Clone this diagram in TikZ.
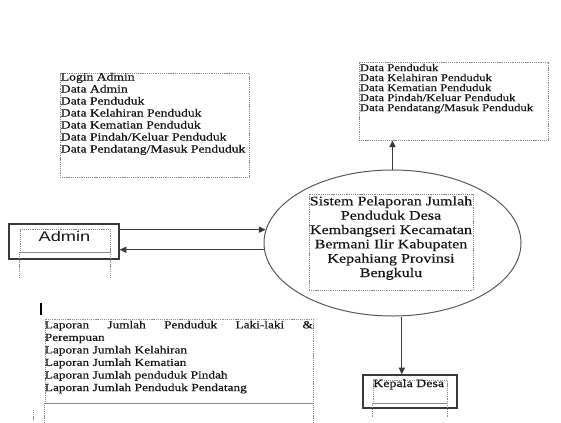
\documentclass[tikz,border=0pt]{standalone}
\usepackage{fontspec}
\setmainfont{Liberation Serif}[FakeStretch=1.23, UprightFeatures={FakeBold=0.4}]
\newfontfamily\adminfont{Liberation Sans}[FakeStretch=1.3]
\usepackage{tikz}
\usetikzlibrary{arrows.meta, positioning, calc, shapes.geometric}
\definecolor{edge}{HTML}{3A3A3A}
\definecolor{dots}{HTML}{8A8A8A}
\definecolor{ink}{HTML}{141414}
\newcommand{\tightlines}{\lineskiplimit-5pt\relax}

\begin{document}
\begin{tikzpicture}[
  x=0.75pt, y=-0.75pt,
  store/.style={draw=dots, dash pattern=on 0.8pt off 0.6pt, line width=0.6pt, inner sep=0pt},
  ent/.style={draw=edge, line width=0.9pt, inner sep=0pt},
  proc/.style={ellipse, draw=edge!85, line width=0.75pt, inner sep=0pt},
  txt/.style={inner sep=0pt, align=left, text=ink},
  dbl/.style={draw=dots, line width=1.3pt},
  arr/.style={-{Triangle[length=5pt,width=4.5pt]}, edge, line width=0.9pt}
]
  \useasboundingbox (0,0) rectangle (561,422);

  % proses utama
  \node[proc, minimum width=192.75pt, minimum height=109.5pt] (proc) at (392.5,243) {};
  \node[store, minimum width=123pt, minimum height=72pt] (procbox) at (391,242) {};
  \node[txt, align=center, anchor=north, font=\fontsize{9.8}{10.75}\selectfont] (proctxt) at (391,196)
    {Sistem Pelaporan Jumlah\\Penduduk Desa\\Kembangseri Kecamatan\\Bermani Ilir Kabupaten\\Kepahiang Provinsi\\Bengkulu};

  % data masuk
  \node[store, minimum width=141.75pt, minimum height=78pt] (inbox) at (154.5,125) {};
  \node[txt, anchor=north west, font=\fontsize{8.3}{9}\selectfont\tightlines] (intxt) at ([xshift=0.75pt]inbox.north west)
    {Login Admin\\Data Admin\\Data Penduduk\\Data Kelahiran Penduduk\\Data Kematian Penduduk\\Data Pindah/Keluar Penduduk\\Data Pendatang/Masuk Penduduk};

  % data keluar
  \node[store, minimum width=141.75pt, minimum height=58.5pt] (outbox) at (453.5,101) {};
  \node[txt, anchor=north west, font=\fontsize{7.8}{7.5}\selectfont\tightlines] (outtxt) at ([xshift=0.75pt,yshift=-1.5pt]outbox.north west)
    {Data Penduduk\\Data Kelahiran Penduduk\\Data Kematian Penduduk\\Data Pindah/Keluar Penduduk\\Data Pendatang/Masuk Penduduk};

  % laporan
  \node[store, minimum width=201pt, minimum height=63pt] (report) at (179,361) {};
  \draw[dbl] (report.south west) -- (report.south east);
  \draw[store] (report.south west) -- ++(0,19);
  \draw[store] (report.south east) -- ++(0,19);
  \node[txt, anchor=north west, text width=201pt, font=\fontsize{8.1}{9.4}\selectfont\tightlines] (reptxt) at ([yshift=-1.5pt]report.north west)
    {Laporan\hfill Jumlah\hfill Penduduk\hfill Laki-laki\hfill \&\\Perempuan\\Laporan Jumlah Kelahiran\\Laporan Jumlah Kematian\\Laporan Jumlah penduduk Pindah\\Laporan Jumlah Penduduk Pendatang};
  \draw[line width=1.6pt] (41,303) -- (41,315);
  \draw[store] (33,410) -- (33,421);

  % admin
  \node[ent, minimum width=82.5pt, minimum height=26.25pt] (admin) at (64,241.5) {};
  \node[store, minimum width=67.5pt, minimum height=17.25pt] (adminin) at (65,240.5) {};
  \draw[dbl] (adminin.south west) -- (adminin.south east);
  \draw[store] (adminin.south west) -- ++(0,26);
  \draw[store] (adminin.south east) -- ++(0,26);
  \node[inner sep=0pt, anchor=base, text=ink, font=\adminfont\fontsize{10.5}{12}\selectfont] (admintxt) at (64.5,241.7) {Admin};

  % kepala desa
  \node[ent, minimum width=70.5pt, minimum height=24.75pt] (kades) at (410,391.5) {};
  \node[store, minimum width=55.5pt, minimum height=17.25pt] (kadesin) at (410,391.5) {};
  \draw[dbl] (kadesin.south west) -- (kadesin.south east);
  \draw[store] (kadesin.south west) -- ++(0,14);
  \draw[store] (kadesin.south east) -- ++(0,14);
  \node[inner sep=0pt, anchor=base west, text=ink, font=\fontsize{8.5}{10}\selectfont] (kadestxt) at (373,387) {Kepala Desa};

  % alur data
  \draw[arr] (admin.east |- proc.174) -- (proc.174);
  \draw[arr] (proc.183) -- (admin.east |- proc.183);
  \draw[arr] (proc.north) -- (proc.north |- outbox.south);
  \draw[arr] ([xshift=7pt]proc.south) -- ([xshift=7pt]proc.south |- kades.north);
\end{tikzpicture}
\end{document}
